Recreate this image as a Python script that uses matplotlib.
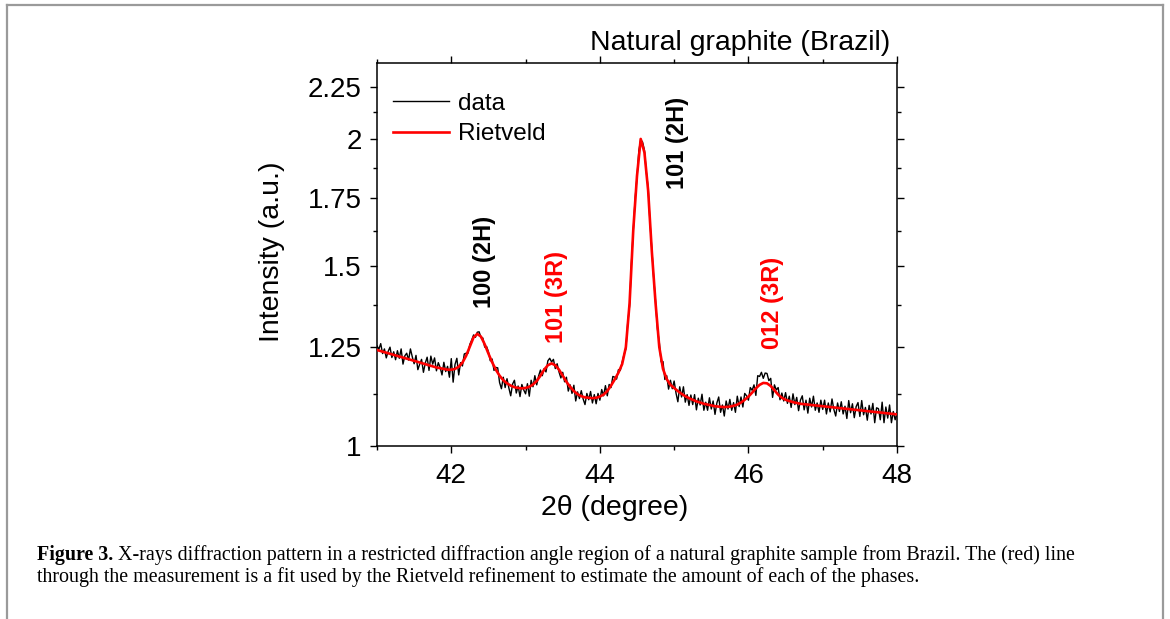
import numpy as np
import matplotlib
matplotlib.use('Agg')
import matplotlib.pyplot as plt
from matplotlib.ticker import FixedLocator, FixedFormatter, NullFormatter
from matplotlib.lines import Line2D

plt.rcParams['font.family'] = ['Liberation Sans', 'DejaVu Sans']

# measured XRD pattern, 41..48 deg, step 0.025
data_start, data_step = 41.0, 0.025
data_y = [
    1.254, 1.244, 1.260, 1.232, 1.245, 1.220, 1.238, 1.250, 1.221, 1.237,
    1.215, 1.240, 1.219, 1.245, 1.203, 1.226, 1.233, 1.214, 1.245, 1.223,
    1.204, 1.227, 1.188, 1.203, 1.216, 1.181, 1.206, 1.222, 1.186, 1.225,
    1.203, 1.220, 1.185, 1.207, 1.194, 1.174, 1.208, 1.183, 1.197, 1.168,
    1.218, 1.155, 1.202, 1.219, 1.174, 1.207, 1.198, 1.231, 1.233, 1.233,
    1.258, 1.270, 1.285, 1.278, 1.293, 1.294, 1.277, 1.276, 1.250, 1.252,
    1.237, 1.212, 1.217, 1.186, 1.194, 1.193, 1.154, 1.138, 1.168, 1.141,
    1.164, 1.140, 1.120, 1.150, 1.160, 1.127, 1.145, 1.118, 1.149, 1.135,
    1.125, 1.151, 1.119, 1.160, 1.143, 1.172, 1.148, 1.171, 1.187, 1.172,
    1.191, 1.182, 1.212, 1.219, 1.209, 1.216, 1.191, 1.204, 1.182, 1.166,
    1.181, 1.156, 1.168, 1.132, 1.148, 1.126, 1.147, 1.107, 1.130, 1.113,
    1.133, 1.112, 1.098, 1.126, 1.110, 1.131, 1.102, 1.123, 1.100, 1.126,
    1.109, 1.136, 1.120, 1.146, 1.120, 1.149, 1.141, 1.170, 1.168, 1.163,
    1.188, 1.186, 1.208, 1.229, 1.245, 1.320, 1.372, 1.512, 1.624, 1.749,
    1.834, 1.948, 1.996, 1.986, 1.950, 1.857, 1.792, 1.655, 1.558, 1.459,
    1.385, 1.302, 1.264, 1.209, 1.210, 1.162, 1.172, 1.137, 1.160, 1.138,
    1.158, 1.127, 1.105, 1.143, 1.117, 1.143, 1.104, 1.123, 1.096, 1.122,
    1.098, 1.123, 1.085, 1.114, 1.097, 1.124, 1.084, 1.104, 1.084, 1.115,
    1.087, 1.107, 1.074, 1.102, 1.117, 1.079, 1.097, 1.070, 1.107, 1.087,
    1.111, 1.084, 1.103, 1.079, 1.119, 1.093, 1.117, 1.092, 1.126, 1.120,
    1.109, 1.141, 1.134, 1.148, 1.121, 1.172, 1.170, 1.181, 1.165, 1.179,
    1.178, 1.159, 1.165, 1.116, 1.148, 1.135, 1.141, 1.110, 1.127, 1.107,
    1.128, 1.101, 1.119, 1.091, 1.125, 1.098, 1.116, 1.083, 1.109, 1.120,
    1.085, 1.109, 1.077, 1.114, 1.092, 1.119, 1.084, 1.102, 1.079, 1.109,
    1.086, 1.109, 1.075, 1.102, 1.080, 1.112, 1.086, 1.070, 1.102, 1.081,
    1.105, 1.075, 1.094, 1.064, 1.108, 1.078, 1.100, 1.066, 1.093, 1.103,
    1.069, 1.108, 1.073, 1.091, 1.060, 1.096, 1.075, 1.101, 1.054, 1.090,
    1.088, 1.061, 1.104, 1.054, 1.092, 1.065, 1.097, 1.054, 1.081, 1.061,
    1.078,
]

# Rietveld fit, step 0.05
fit_start, fit_step = 41.0, 0.05
fit_y = [
    1.242, 1.239, 1.236, 1.233, 1.230, 1.227, 1.224, 1.221, 1.218, 1.215,
    1.212, 1.209, 1.206, 1.203, 1.200, 1.197, 1.194, 1.192, 1.190, 1.188,
    1.188, 1.190, 1.196, 1.207, 1.226, 1.252, 1.278, 1.288, 1.280, 1.258,
    1.232, 1.208, 1.188, 1.172, 1.160, 1.152, 1.146, 1.142, 1.140, 1.139,
    1.140, 1.143, 1.149, 1.158, 1.172, 1.188, 1.200, 1.205, 1.200, 1.188,
    1.172, 1.156, 1.143, 1.132, 1.124, 1.119, 1.116, 1.115, 1.114, 1.115,
    1.118, 1.123, 1.132, 1.146, 1.162, 1.180, 1.203, 1.250, 1.380, 1.630,
    1.840, 2.000, 1.940, 1.780, 1.550, 1.380, 1.250, 1.190, 1.163, 1.148,
    1.140, 1.132, 1.125, 1.119, 1.114, 1.110, 1.106, 1.103, 1.100, 1.098,
    1.096, 1.094, 1.093, 1.092, 1.092, 1.093, 1.095, 1.098, 1.103, 1.110,
    1.118, 1.128, 1.139, 1.148, 1.153, 1.152, 1.145, 1.134, 1.123, 1.115,
    1.110, 1.107, 1.104, 1.102, 1.100, 1.099, 1.098, 1.097, 1.096, 1.095,
    1.094, 1.093, 1.092, 1.091, 1.090, 1.089, 1.088, 1.087, 1.086, 1.085,
    1.084, 1.083, 1.082, 1.081, 1.080, 1.079, 1.078, 1.077, 1.076, 1.075,
    1.074,
]

# peak labels: text, x, y, colour
peak_labels = ['100 (2H)', '101 (3R)', '101 (2H)', '012 (3R)']
peak_x = [42.45, 43.42, 45.04, 46.32]
peak_y = [1.515, 1.400, 1.982, 1.381]
peak_col = ['black', 'red', 'black', 'red']

yticks = [1, 1.25, 1.5, 1.75, 2, 2.25]
ytick_labels = ['1', '1.25', '1.5', '1.75', '2', '2.25']
yminor = [1.125, 1.375, 1.625, 1.875, 2.125]

data_x = np.round(data_start + data_step * np.arange(len(data_y)), 3)
fit_x = np.round(fit_start + fit_step * np.arange(len(fit_y)), 3)

fig = plt.figure(figsize=(11.7, 6.19), dpi=100)
ax = fig.add_axes([377/1170, 1 - 446/619, 520/1170, 383/619])

ax.plot(data_x, data_y, color='black', lw=1.0, label='data', zorder=2)
ax.plot(fit_x, fit_y, color='red', lw=1.9, label='Rietveld', zorder=3)

ax.set_yscale('log')
ax.set_xlim(41, 48)
ax.set_ylim(1, 2.374)
ax.yaxis.set_major_locator(FixedLocator(yticks))
ax.yaxis.set_major_formatter(FixedFormatter(ytick_labels))
ax.yaxis.set_minor_locator(FixedLocator(yminor))
ax.yaxis.set_minor_formatter(NullFormatter())
ax.xaxis.set_major_locator(FixedLocator([42, 44, 46, 48]))
ax.xaxis.set_minor_locator(FixedLocator([41, 43, 45, 47]))

for s in ax.spines.values():
    s.set_linewidth(1.1)
ax.tick_params(which='both', direction='out', top=True, right=True,
               labelsize=20, width=1.0)
ax.tick_params(which='major', length=5)
ax.tick_params(which='minor', length=3)
ax.tick_params(axis='y', pad=6)
ax.tick_params(axis='x', pad=7)

for t, px, py, c in zip(peak_labels, peak_x, peak_y, peak_col):
    ax.text(px, py, t, rotation=90, ha='center', va='center', color=c,
            fontsize=17, fontweight='bold')

ax.legend(frameon=False, loc='upper left', bbox_to_anchor=(0.03, 0.922),
          fontsize=17.5, handlelength=2.3, handletextpad=0.4,
          labelspacing=0.35, borderaxespad=0, borderpad=0)

fig.text(890/1170, 1 - 43/619, 'Natural graphite (Brazil)', ha='right',
         va='center', fontsize=20.5)
fig.text(272/1170, 1 - 252/619, 'Intensity (a.u.)', rotation=90,
         ha='center', va='center', fontsize=20.5)
fig.text(615/1170, 1 - 508/619, '2θ (degree)', ha='center', va='center',
         fontsize=20.5)

# caption
cap_size = 14.4
cap1 = fig.text(37/1170, 1 - 560/619, 'Figure 3.', fontsize=cap_size,
                fontweight='bold', family='Liberation Serif', va='baseline')
plt.annotate(' X-rays diffraction pattern in a restricted diffraction angle '
             'region of a natural graphite sample from Brazil. The (red) line',
             xy=(1, 0), xycoords=cap1, va='bottom', ha='left',
             fontsize=cap_size, family='Liberation Serif', annotation_clip=False)
fig.text(37/1170, 1 - 582/619, 'through the measurement is a fit used by the '
         'Rietveld refinement to estimate the amount of each of the phases.',
         fontsize=cap_size, family='Liberation Serif', va='baseline')

# page frame
frame_col = '#9a9a9a'
fig.add_artist(Line2D([7/1170, 1163/1170], [1 - 5/619, 1 - 5/619],
                      color=frame_col, lw=1.6, transform=fig.transFigure))
fig.add_artist(Line2D([7/1170, 7/1170], [0, 1 - 5/619],
                      color=frame_col, lw=1.6, transform=fig.transFigure))
fig.add_artist(Line2D([1163/1170, 1163/1170], [0, 1 - 5/619],
                      color=frame_col, lw=1.6, transform=fig.transFigure))

fig.savefig('out.png', dpi=100, facecolor='white')
